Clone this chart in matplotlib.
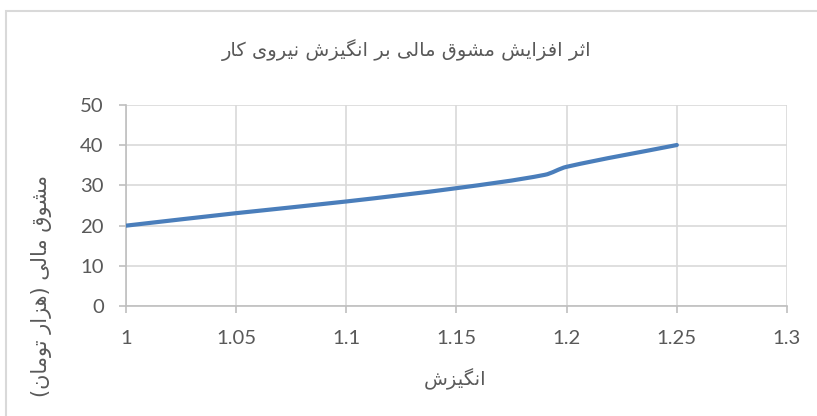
import matplotlib
matplotlib.use("Agg")
import matplotlib.pyplot as plt
from matplotlib.path import Path
from matplotlib.patches import PathPatch, Rectangle

# ---------------- data ----------------
motivation = [1.00, 1.05, 1.10, 1.15, 1.19, 1.20, 1.25]
incentive = [20.0, 23.1, 26.0, 29.3, 32.6, 34.6, 40.0]
x_ticks = [1.0, 1.05, 1.1, 1.15, 1.2, 1.25, 1.3]
x_tick_labels = ["1", "1.05", "1.1", "1.15", "1.2", "1.25", "1.3"]
y_ticks = [0, 10, 20, 30, 40, 50]

title_text = "اثر افزایش مشوق مالی بر انگیزش نیروی کار"
xlabel_text = "انگیزش"
ylabel_text = "مشوق مالی (هزار تومان)"

# ---------------- simple Persian shaping (contextual forms + RTL order) ----------------
FORMS = {  # isolated, final, initial, medial
    "\u0627": ("\uFE8D", "\uFE8E", None, None),
    "\u0628": ("\uFE8F", "\uFE90", "\uFE91", "\uFE92"),
    "\u062A": ("\uFE95", "\uFE96", "\uFE97", "\uFE98"),
    "\u062B": ("\uFE99", "\uFE9A", "\uFE9B", "\uFE9C"),
    "\u0631": ("\uFEAD", "\uFEAE", None, None),
    "\u0632": ("\uFEAF", "\uFEB0", None, None),
    "\u0634": ("\uFEB5", "\uFEB6", "\uFEB7", "\uFEB8"),
    "\u0641": ("\uFED1", "\uFED2", "\uFED3", "\uFED4"),
    "\u0642": ("\uFED5", "\uFED6", "\uFED7", "\uFED8"),
    "\u0644": ("\uFEDD", "\uFEDE", "\uFEDF", "\uFEE0"),
    "\u0645": ("\uFEE1", "\uFEE2", "\uFEE3", "\uFEE4"),
    "\u0646": ("\uFEE5", "\uFEE6", "\uFEE7", "\uFEE8"),
    "\u0647": ("\uFEE9", "\uFEEA", "\uFEEB", "\uFEEC"),
    "\u0648": ("\uFEED", "\uFEEE", None, None),
    "\u06CC": ("\uFBFC", "\uFBFD", "\uFBFE", "\uFBFF"),
    "\u06A9": ("\uFB8E", "\uFB8F", "\uFB90", "\uFB91"),
    "\u06AF": ("\uFB92", "\uFB93", "\uFB94", "\uFB95"),
}
MIRROR = {"(": ")", ")": "("}


def rtl(text):
    text = text.replace("\u064A", "\u06CC").replace("\u0643", "\u06A9")
    out = []
    n = len(text)
    for i, ch in enumerate(text):
        if ch not in FORMS:
            out.append(ch)
            continue
        iso, fin, ini, med = FORMS[ch]
        prev = text[i - 1] if i > 0 else ""
        nxt = text[i + 1] if i + 1 < n else ""
        join_prev = prev in FORMS and FORMS[prev][2] is not None
        join_next = ini is not None and nxt in FORMS
        if join_prev and join_next:
            out.append(med)
        elif join_prev:
            out.append(fin)
        elif join_next:
            out.append(ini)
        else:
            out.append(iso)
    return "".join(MIRROR.get(c, c) for c in reversed(out))


# ---------------- figure ----------------
W, H = 817, 416
fig = plt.figure(figsize=(W / 100, H / 100), dpi=100)
fig.patch.set_facecolor("white")

# chart area frame
fig.patches.append(Rectangle((5.5 / W, -0.05), 1.2, 1 - 10.5 / H + 0.05,
                             transform=fig.transFigure, fill=False,
                             edgecolor="#d9d9d9", linewidth=1.5))

left, right = 126 / W, 787 / W
bottom, top = 1 - 306.3 / H, 1 - 104.7 / H
ax = fig.add_axes([left, bottom, right - left, top - bottom])

ax.set_xlim(1.0, 1.3)
ax.set_ylim(0, 50)

grid_c = "#d9d9d9"
axis_c = "#bfbfbf"
text_c = "#595959"

ax.set_xticks(x_ticks)
ax.set_xticklabels(x_tick_labels)
ax.set_yticks(y_ticks)
ax.grid(True, color=grid_c, linewidth=1.2)
ax.set_axisbelow(True)
for s in ["top", "right"]:
    ax.spines[s].set_visible(False)
for s in ["left", "bottom"]:
    ax.spines[s].set_color(axis_c)
    ax.spines[s].set_linewidth(1.2)

tick_font = {"family": ["Lato", "DejaVu Sans"], "size": 14.6}
ax.tick_params(axis="both", colors=axis_c, labelcolor=text_c, width=1.2, length=5)
ax.tick_params(axis="y", pad=11)
ax.tick_params(axis="x", pad=12)
for lab in ax.get_xticklabels() + ax.get_yticklabels():
    lab.set_fontfamily(tick_font["family"])
    lab.set_fontsize(tick_font["size"])

# smooth line through the data (cubic Hermite segments as Bezier curves)
n = len(motivation)
slopes = []
for i in range(n):
    if i == 0:
        m = (incentive[1] - incentive[0]) / (motivation[1] - motivation[0])
    elif i == n - 1:
        m = (incentive[-1] - incentive[-2]) / (motivation[-1] - motivation[-2])
    else:
        m = (incentive[i + 1] - incentive[i - 1]) / (motivation[i + 1] - motivation[i - 1])
    slopes.append(m)
verts = [(motivation[0], incentive[0])]
codes = [Path.MOVETO]
for i in range(n - 1):
    h = motivation[i + 1] - motivation[i]
    verts += [(motivation[i] + h / 3, incentive[i] + slopes[i] * h / 3),
              (motivation[i + 1] - h / 3, incentive[i + 1] - slopes[i + 1] * h / 3),
              (motivation[i + 1], incentive[i + 1])]
    codes += [Path.CURVE4] * 3
ax.add_patch(PathPatch(Path(verts, codes), fill=False, edgecolor="#4a7ebb",
                       linewidth=3.0, capstyle="round", joinstyle="round", zorder=3))

# texts
ar_font = ["DejaVu Sans"]
fig.text(407 / W, 1 - 50 / H, rtl(title_text), ha="center", va="center",
         fontsize=14, color=text_c, family=ar_font)
fig.text(455 / W, 1 - 379 / H, rtl(xlabel_text), ha="center", va="center",
         fontsize=14, color=text_c, family=ar_font)
fig.text(42 / W, 1 - 286 / H, rtl(ylabel_text), ha="center", va="center",
         rotation=90, fontsize=15, color=text_c, family=ar_font)

fig.savefig("out.png", dpi=100)
